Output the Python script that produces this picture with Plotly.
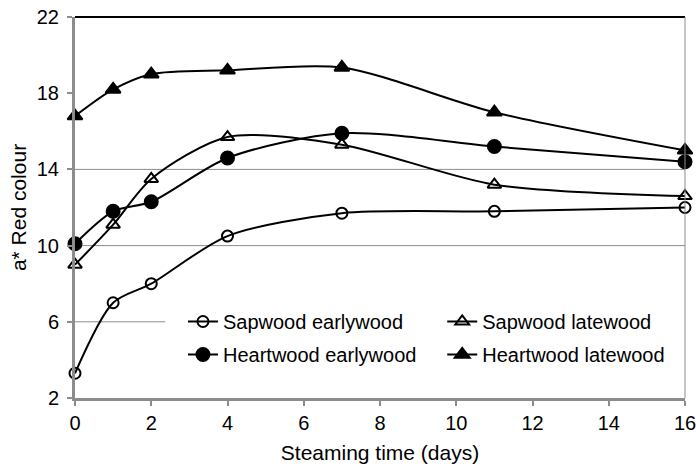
import plotly.graph_objects as go

days = [0, 1, 2, 4, 7, 11, 16]
sapwood_earlywood = [3.3, 7.0, 8.0, 10.5, 11.7, 11.8, 12.0]
sapwood_latewood = [9.0, 11.1, 13.5, 15.7, 15.3, 13.2, 12.6]
heartwood_earlywood = [10.1, 11.8, 12.3, 14.6, 15.9, 15.2, 14.4]
heartwood_latewood = [16.8, 18.2, 19.0, 19.2, 19.35, 17.0, 15.0]

series = [
    ("Sapwood earlywood", sapwood_earlywood, "circle-open", 11, "legend"),
    ("Heartwood earlywood", heartwood_earlywood, "circle", 13, "legend"),
    ("Sapwood latewood", sapwood_latewood, "triangle-up-open", 12, "legend2"),
    ("Heartwood latewood", heartwood_latewood, "triangle-up", 13, "legend2"),
]

fig = go.Figure()
for name, vals, sym, sz, lg in series:
    fig.add_trace(go.Scatter(
        x=days, y=vals, name=name, mode="lines+markers",
        legend=lg, legendgroup=name,
        line=dict(color="black", width=2, shape="spline", smoothing=0.8),
        marker=dict(symbol=sym, size=sz, color="black",
                    line=dict(color="black", width=2)),
        cliponaxis=False,
    ))

# grid lines
for gy, xend in [(6, 0.148), (10, 1), (14, 1)]:
    fig.add_shape(type="line", xref="paper", yref="y", x0=0, x1=xend, y0=gy, y1=gy,
                  line=dict(color="#8c8c8c", width=1), layer="below")
# top and right borders
fig.add_shape(type="line", xref="paper", yref="paper", x0=0, x1=1, y0=1, y1=1,
              line=dict(color="black", width=2))
fig.add_shape(type="line", xref="paper", yref="paper", x0=1, x1=1, y0=0, y1=1,
              line=dict(color="#8c8c8c", width=1))

legend_common = dict(orientation="v", xanchor="left", yanchor="top",
                     bgcolor="rgba(0,0,0,0)", font=dict(size=20), tracegroupgap=4)

fig.update_layout(
    width=696, height=469,
    margin=dict(l=75, r=11, t=17, b=71),
    paper_bgcolor="white", plot_bgcolor="white",
    font=dict(family="Liberation Sans, Arial, sans-serif", size=20, color="black"),
    showlegend=True,
    legend=dict(x=0.177, y=0.252, **legend_common),
    legend2=dict(x=0.602, y=0.252, **legend_common),
    xaxis=dict(
        range=[0, 16], tickvals=[0, 2, 4, 6, 8, 10, 12, 14, 16],
        showgrid=False, zeroline=False, automargin=False,
        ticklabeloverflow="allow",
        showline=True, linecolor="#8c8c8c", linewidth=3,
        ticks="outside", ticklen=5, tickcolor="#8c8c8c", tickwidth=2,
        tickfont=dict(size=20),
        title=dict(text="Steaming time (days)", font=dict(size=21), standoff=13),
    ),
    yaxis=dict(
        range=[2, 22], tickvals=[2, 6, 10, 14, 18, 22],
        showgrid=False, zeroline=False, automargin=False,
        ticklabeloverflow="allow",
        showline=True, linecolor="#8c8c8c", linewidth=3,
        ticks="outside", ticklen=5, tickcolor="#8c8c8c", tickwidth=2,
        tickfont=dict(size=20), ticklabelstandoff=4,
        title=dict(text="a* Red colour", font=dict(size=21), standoff=5),
    ),
)

fig.write_html("out.html", config={"displayModeBar": False},
               post_script="document.body.style.margin='0';document.body.style.overflow='hidden';")
